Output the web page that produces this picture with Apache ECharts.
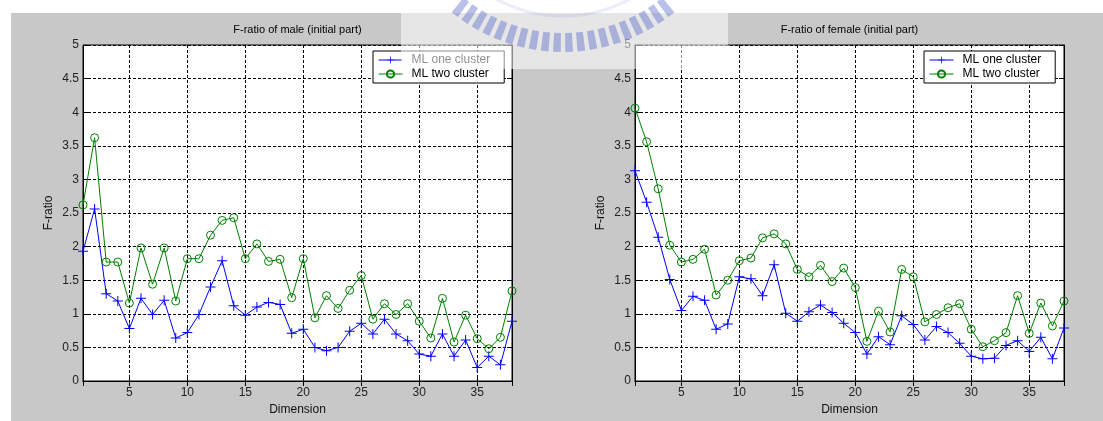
<!DOCTYPE html>
<html>
<head>
<meta charset="utf-8">
<script src="https://cdn.jsdelivr.net/npm/echarts@6/dist/echarts.min.js"></script>
<style>
  html, body { margin: 0; padding: 0; background: #fff; }
  #chart { width: 1103px; height: 421px; }
</style>
</head>
<body>
<div id="chart"></div>
<script>
// Feature dimension index (x axis)
const dimensions = [1, 2, 3, 4, 5, 6, 7, 8, 9, 10, 11, 12, 13, 14, 15, 16, 17, 18, 19,
  20, 21, 22, 23, 24, 25, 26, 27, 28, 29, 30, 31, 32, 33, 34, 35, 36, 37, 38];

// F-ratio per dimension, male speakers
const maleOneCluster = [1.93, 2.56, 1.30, 1.19, 0.78, 1.23, 0.99, 1.20, 0.64, 0.72,
  0.99, 1.40, 1.79, 1.12, 0.98, 1.10, 1.17, 1.14, 0.71, 0.77,
  0.50, 0.45, 0.50, 0.74, 0.86, 0.70, 0.92, 0.70, 0.60, 0.40,
  0.37, 0.70, 0.37, 0.61, 0.20, 0.37, 0.24, 0.89];
const maleTwoCluster = [2.62, 3.62, 1.77, 1.77, 1.16, 1.98, 1.44, 1.98, 1.19, 1.82,
  1.82, 2.17, 2.39, 2.43, 1.82, 2.04, 1.78, 1.81, 1.24, 1.82,
  0.94, 1.27, 1.08, 1.35, 1.57, 0.92, 1.15, 0.99, 1.15, 0.89,
  0.64, 1.23, 0.58, 0.98, 0.63, 0.48, 0.65, 1.34];

// F-ratio per dimension, female speakers
const femaleOneCluster = [3.13, 2.66, 2.14, 1.51, 1.05, 1.26, 1.20, 0.77, 0.85, 1.55,
  1.52, 1.27, 1.73, 1.01, 0.89, 1.03, 1.13, 1.02, 0.86, 0.72,
  0.40, 0.66, 0.54, 0.97, 0.84, 0.61, 0.81, 0.72, 0.56, 0.37,
  0.33, 0.34, 0.53, 0.60, 0.44, 0.65, 0.33, 0.79];
const femaleTwoCluster = [4.06, 3.56, 2.86, 2.02, 1.77, 1.81, 1.96, 1.28, 1.50, 1.79,
  1.83, 2.13, 2.19, 2.04, 1.66, 1.55, 1.72, 1.48, 1.68, 1.39,
  0.59, 1.04, 0.73, 1.66, 1.55, 0.88, 0.99, 1.09, 1.15, 0.77,
  0.51, 0.60, 0.72, 1.27, 0.71, 1.16, 0.82, 1.19];

const panelTitles = ['F-ratio of male (initial part)', 'F-ratio of female (initial part)'];
const seriesNames = ['ML one cluster', 'ML two cluster'];
const xAxisName = 'Dimension';
const yAxisName = 'F-ratio';
const xRange = [1, 38];
const yRange = [0, 5];
const yStep = 0.5;

const FONT = '"Liberation Sans", Arial, Helvetica, sans-serif';
const BLUE = '#0000ff';
const GREEN = '#008000';
const PLUS = 'path://M4.5,0h1v4.5h4.5v1h-4.5v4.5h-1v-4.5h-4.5v-1h4.5z';

const plotTop = 45, plotWidth = 429, plotHeight = 338;
const panels = [
  { left: 83, legendLeft: 373, one: maleOneCluster, two: maleTwoCluster, title: panelTitles[0] },
  { left: 635, legendLeft: 924, one: femaleOneCluster, two: femaleTwoCluster, title: panelTitles[1] }
];

const pairs = vals => dimensions.map((d, k) => [d, vals[k]]);

const grids = [], xAxes = [], yAxes = [], series = [], legends = [], graphics = [];

// Figure background (white margin at top/left, grey figure face)
graphics.push({ type: 'rect', z: -10, shape: { x: 11, y: 13, width: 1103 - 11, height: 421 - 13 },
  style: { fill: '#c8c8c8' }, silent: true });

panels.forEach((p, i) => {
  grids.push({ left: p.left, top: plotTop, width: plotWidth, height: plotHeight,
    show: true, backgroundColor: '#fff', borderColor: '#000', borderWidth: 1 });

  const tick = { show: true, inside: true, length: 5, lineStyle: { color: '#000', width: 1 } };
  const line = { show: true, lineStyle: { color: '#000', width: 1 } };
  const grid = { show: true, lineStyle: { color: '#000', width: 1, type: [3, 2] } };

  xAxes.push({ type: 'value', gridIndex: i, position: 'bottom', min: xRange[0], max: xRange[1], splitNumber: 7,
    axisLine: line, axisTick: tick, splitLine: grid,
    axisLabel: { margin: 6, fontSize: 12, color: '#222', fontFamily: FONT, showMinLabel: false, showMaxLabel: false },
    name: xAxisName, nameLocation: 'middle', nameGap: 23,
    nameTextStyle: { fontSize: 12, color: '#111', fontFamily: FONT } });
  xAxes.push({ type: 'value', gridIndex: i, position: 'top', min: xRange[0], max: xRange[1], splitNumber: 7,
    axisLine: line, axisTick: tick, splitLine: { show: false }, axisLabel: { show: false } });

  yAxes.push({ type: 'value', gridIndex: i, position: 'left', min: yRange[0], max: yRange[1], interval: yStep,
    axisLine: line, axisTick: tick, splitLine: grid,
    axisLabel: { margin: 4, fontSize: 12, color: '#222', fontFamily: FONT },
    name: yAxisName, nameLocation: 'middle', nameGap: 28,
    nameTextStyle: { fontSize: 12, color: '#111', fontFamily: FONT } });
  yAxes.push({ type: 'value', gridIndex: i, position: 'right', min: yRange[0], max: yRange[1], interval: yStep,
    axisLine: line, axisTick: tick, splitLine: { show: false }, axisLabel: { show: false } });

  series.push({ name: seriesNames[0], type: 'line', xAxisIndex: 2 * i, yAxisIndex: 2 * i,
    data: pairs(p.one), symbol: PLUS, symbolSize: 10, showAllSymbol: true,
    lineStyle: { color: BLUE, width: 1 }, itemStyle: { color: BLUE, borderWidth: 0 },
    emphasis: { disabled: true }, z: 3 });
  series.push({ name: seriesNames[1], type: 'line', xAxisIndex: 2 * i, yAxisIndex: 2 * i,
    data: pairs(p.two), symbol: 'circle', symbolSize: 8, showAllSymbol: true,
    lineStyle: { color: GREEN, width: 1 },
    itemStyle: { color: 'rgba(0,0,0,0)', borderColor: GREEN, borderWidth: 1 },
    emphasis: { disabled: true }, z: 3 });

  legends.push({ left: p.legendLeft, top: 51, orient: 'vertical', data: seriesNames,
    backgroundColor: '#fff', borderColor: '#000', borderWidth: 1, borderRadius: 0,
    padding: [3, 14, 3, 5], itemGap: 2, itemWidth: 24, itemHeight: 9, selectedMode: false,
    lineStyle: { width: 1 },
    textStyle: { fontSize: 12, color: '#000', fontFamily: FONT, padding: [0, 0, 0, 4] } });

  graphics.push({ type: 'text', x: p.left + plotWidth / 2, y: 30, z: 5,
    style: { text: p.title, font: '11px ' + FONT, fill: '#000', align: 'center', verticalAlign: 'middle' } });
});

// Faded seal watermark over the top of the figure
graphics.push({ type: 'rect', z: 100, shape: { x: 401, y: 0, width: 327, height: 69 },
  style: { fill: 'rgba(255,255,255,0.55)' }, silent: true });
const sealCx = 563, sealCy = -124, rIn = 157, rOut = 176;
graphics.push({ type: 'arc', z: 101, shape: { cx: sealCx, cy: sealCy, r: 140,
  startAngle: Math.PI / 2 - 0.5, endAngle: Math.PI / 2 + 0.5 },
  style: { stroke: 'rgba(90,110,210,0.12)', lineWidth: 3, fill: null }, silent: true });
for (let a = -38; a <= 38; a += 4) {
  const t = a * Math.PI / 180, h = 1.25 * Math.PI / 180;
  const pt = (r, ang) => [sealCx - r * Math.sin(ang), sealCy + r * Math.cos(ang)];
  graphics.push({ type: 'polygon', z: 101, silent: true,
    shape: { points: [pt(rIn, t - h), pt(rOut, t - h), pt(rOut, t + h), pt(rIn, t + h)] },
    style: { fill: 'rgba(70,90,200,0.38)' } });
}

const chart = echarts.init(document.getElementById('chart'), null, { renderer: 'canvas' });
chart.setOption({
  animation: false,
  backgroundColor: '#fff',
  grid: grids,
  xAxis: xAxes,
  yAxis: yAxes,
  legend: legends,
  series: series,
  graphic: { elements: graphics }
});
</script>
</body>
</html>
